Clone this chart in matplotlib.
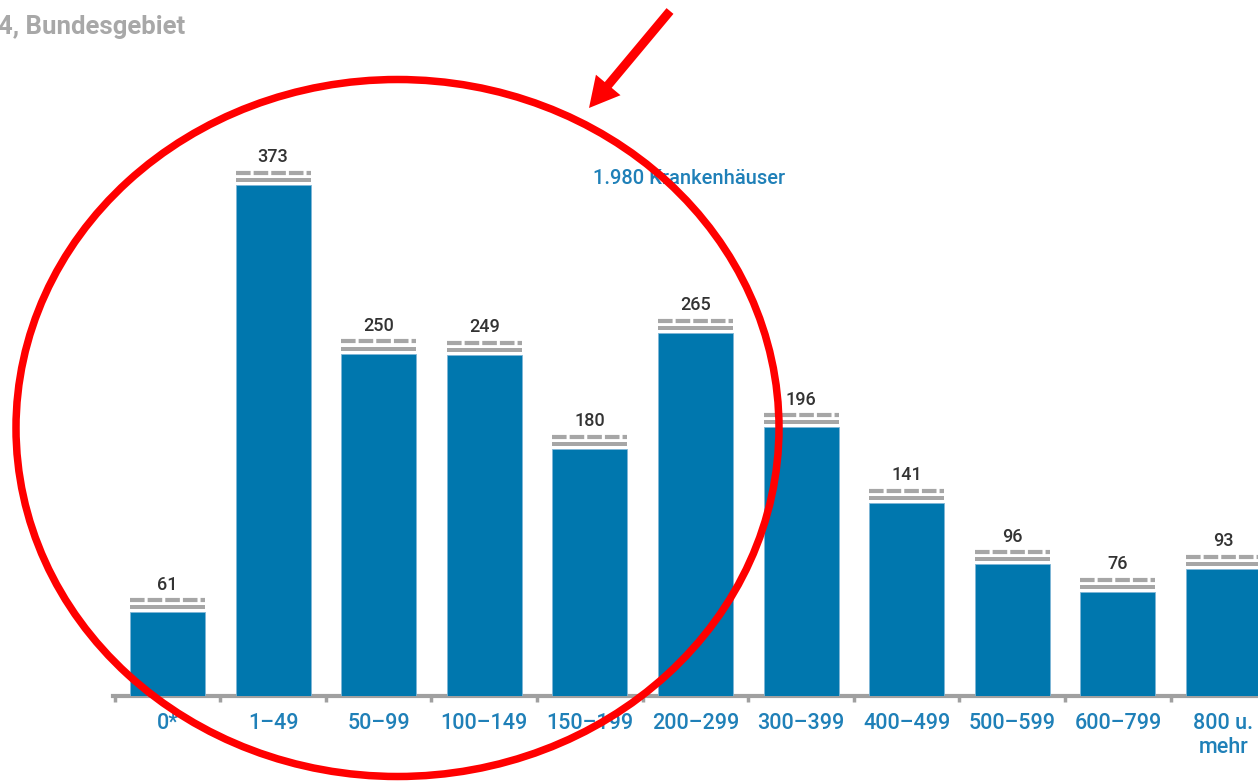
import matplotlib
matplotlib.use("Agg")
import matplotlib.pyplot as plt
from matplotlib.patches import Ellipse, FancyArrow

plt.rcParams["font.family"] = ["Roboto", "DejaVu Sans"]
plt.rcParams["lines.scale_dashes"] = False

# Hospitals by number of beds, Bundesgebiet
categories = ["0*", "1\u201349", "50\u201399", "100\u2013149", "150\u2013199", "200\u2013299",
              "300\u2013399", "400\u2013499", "500\u2013599", "600\u2013799", "800 u.\nmehr"]
hospitals = [61, 373, 250, 249, 180, 265, 196, 141, 96, 76, 93]
total_label = "1.980 Krankenh\u00e4user"
title = "4, Bundesgebiet"

BAR_BLUE = "#0077ae"
LABEL_BLUE = "#1f80b8"
CAP_GRAY = "#a6a6a6"
AXIS_GRAY = "#a0a0a0"

W, H = 1258, 781
fig = plt.figure(figsize=(W / 100, H / 100), dpi=100)

# main bar axes: baseline 85 px above the bottom edge
px_per_unit = 1.37
pitch = 105.6
x0 = 167.5
ax = fig.add_axes([0, 85 / H, 1, (H - 85) / H])
ax.set_xlim(-x0 / pitch, (W - x0) / pitch)
ax.set_ylim(0, (H - 85) / px_per_unit)

xs = list(range(len(categories)))
bw = 0.71
ax.bar(xs, hospitals, width=bw, color=BAR_BLUE, edgecolor="#7fb6d6",
       linewidth=0.6, zorder=3)

u = 1 / px_per_unit  # data units per pixel
for x, v in zip(xs, hospitals):
    # solid cap
    ax.bar(x, 4 * u, bottom=v + 3 * u, width=bw, color=CAP_GRAY,
           linewidth=0, zorder=3)
    # dashed cap
    ax.plot([x - bw / 2, x + bw / 2], [v + 12 * u, v + 12 * u],
            color=CAP_GRAY, lw=3.0, dashes=(10.5, 2.2),
            solid_capstyle="butt", dash_capstyle="butt", zorder=3)
    ax.annotate(str(v), (x, v), xytext=(0, 16.5), textcoords="offset points",
                ha="center", va="baseline", fontsize=13, fontweight="medium",
                color="#333333", zorder=4)

for s in ["top", "left", "right"]:
    ax.spines[s].set_visible(False)
ax.spines["bottom"].set_color(AXIS_GRAY)
ax.spines["bottom"].set_linewidth(3)
ax.spines["bottom"].set_bounds(-0.52, 11)
ax.set_yticks([])
ax.set_xticks(xs)
ax.set_xticklabels(categories, fontsize=15.5, color=LABEL_BLUE,
                   fontweight="medium", linespacing=1.15)
ax.tick_params(axis="x", length=0, pad=12.5)
ax.set_xticks([i - 0.5 for i in range(len(categories))], minor=True)
ax.tick_params(axis="x", which="minor", length=4, width=2.5, color=AXIS_GRAY,
               direction="out")
ax.patch.set_visible(False)

# overlay in pixel coordinates for headings and markup
ov = fig.add_axes([0, 0, 1, 1])
ov.set_xlim(0, W)
ov.set_ylim(H, 0)
ov.axis("off")
ov.patch.set_visible(False)

ov.text(-2, 27, title, fontsize=18.5, fontweight="bold", color="#a8a8a8",
        ha="left", va="center", zorder=1)
ov.text(593, 178, total_label, fontsize=14.5, fontweight="medium",
        color=LABEL_BLUE, ha="left", va="center", zorder=1)

ov.add_patch(Ellipse((397.5, 428), 763, 697, fill=False, edgecolor="#ff0000",
                     linewidth=5.4, zorder=5))
ov.add_patch(FancyArrow(670, 11, -81, 97, width=9, head_width=32,
                        head_length=30, length_includes_head=True,
                        color="#ff0000", linewidth=0, zorder=5))

fig.savefig("out.png", dpi=100)
